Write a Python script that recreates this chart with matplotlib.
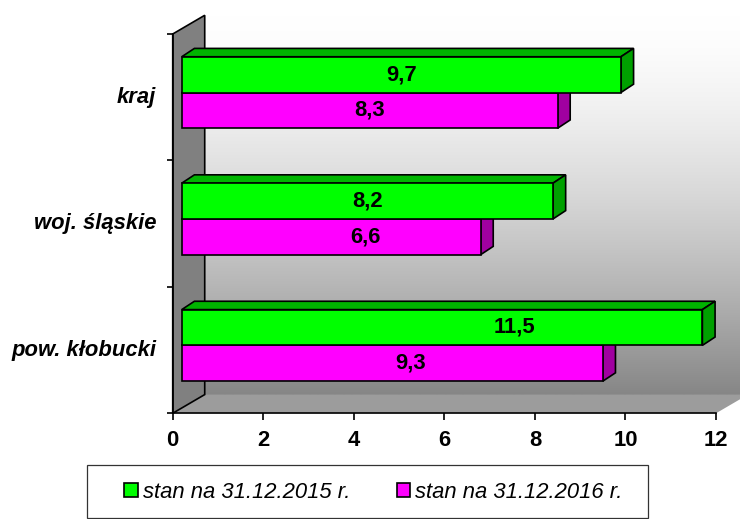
import numpy as np
import matplotlib
matplotlib.use('Agg')
import matplotlib.pyplot as plt
from matplotlib.patches import Polygon, Rectangle, Patch

# ---- data ----
categories = ['pow. kłobucki', 'woj. śląskie', 'kraj']
values_2015 = [11.5, 8.2, 9.7]
values_2016 = [9.3, 6.6, 8.3]
series_names = ['stan na 31.12.2015 r.', 'stan na 31.12.2016 r.']
x_ticks = [0, 2, 4, 6, 8, 10, 12]
# label placement tweaks (value units, relative to bar centre)
label_shift_2015 = [1.6, 0.0, 0.0]
label_shift_2016 = [0.4, 0.75, 0.0]

# ---- style ----
plt.rcParams['font.family'] = ['Liberation Sans', 'DejaVu Sans']
GREEN, GREEN_TOP, GREEN_SIDE = '#00FF00', '#00B400', '#00A000'
MAG, MAG_TOP, MAG_SIDE = '#FF00FF', '#B400B4', '#A000A0'
FS = 15.8

fig = plt.figure(figsize=(7.4, 5.19), dpi=100)
fig.patch.set_facecolor('white')
ax = fig.add_axes([0.2334, 0.2037, 0.7342, 0.7308])
ax.patch.set_visible(False)

XMAX = x_ticks[-1]
ymin, ymax = -0.5, len(categories) - 0.5
DX, DY = 0.707, 0.148          # box depth
BX, BY = 0.199, 0.037          # bar front-plane offset
BDX, BDY = 0.28, 0.066         # bar depth
H = 0.283                      # bar thickness

# back wall with gradient
t = np.linspace(0, 1, 256)
c = (255 - 121 * t ** 1.5) / 255.0
grad = c[:, None, None] * np.ones((1, 1, 3))
ax.imshow(grad, extent=[DX, XMAX + DX, ymin + DY, ymax + DY], origin='upper',
          aspect='auto', clip_on=False, zorder=0, interpolation='bilinear')

# floor
ax.add_patch(Polygon([(0, ymin), (XMAX, ymin), (XMAX + DX, ymin + DY), (DX, ymin + DY)],
                     closed=True, fc='#9c9c9c', ec='none', clip_on=False, zorder=1))
# left wall
ax.add_patch(Polygon([(0, ymin), (0, ymax), (DX, ymax + DY), (DX, ymin + DY)],
                     closed=True, fc='#808080', ec='black', lw=1.2, clip_on=False,
                     zorder=2, joinstyle='miter'))


def draw_3d(vals, centers, fc, ftop, fside, z):
    for v, yc in zip(vals, centers):
        b, tp = yc - H / 2, yc + H / 2
        top = [(BX, tp), (BX + v, tp), (BX + v + BDX, tp + BDY), (BX + BDX, tp + BDY)]
        side = [(BX + v, b), (BX + v, tp), (BX + v + BDX, tp + BDY), (BX + v + BDX, b + BDY)]
        ax.add_patch(Polygon(top, closed=True, fc=ftop, ec='black', lw=1.2,
                             clip_on=False, zorder=z))
        ax.add_patch(Polygon(side, closed=True, fc=fside, ec='black', lw=1.2,
                             clip_on=False, zorder=z))
    ax.barh(centers, vals, height=H, left=BX, color=fc, edgecolor='black',
            linewidth=1.2, zorder=z + 0.5, clip_on=False)


idx = np.arange(len(categories))
c2016 = idx + BY - H / 2
c2015 = idx + BY + H / 2
draw_3d(values_2016, c2016, MAG, MAG_TOP, MAG_SIDE, 3)
draw_3d(values_2015, c2015, GREEN, GREEN_TOP, GREEN_SIDE, 5)

# data labels
for vals, cents, shifts in ((values_2015, c2015, label_shift_2015),
                            (values_2016, c2016, label_shift_2016)):
    for v, yc, s in zip(vals, cents, shifts):
        ax.text(BX + v / 2 + s, yc, f'{v:.1f}'.replace('.', ','), ha='center',
                va='center', fontsize=FS, fontweight='bold', zorder=10)

ax.set_xlim(0, XMAX)
ax.set_ylim(ymin, ymax)

# axes
for s in ('top', 'right'):
    ax.spines[s].set_visible(False)
for s in ('left', 'bottom'):
    ax.spines[s].set_color('black')
    ax.spines[s].set_linewidth(1.2)
    ax.spines[s].set_zorder(2.5)

ax.set_xticks(x_ticks)
ax.set_xticklabels([str(v) for v in x_ticks], fontsize=FS, fontweight='bold')
ax.tick_params(axis='x', direction='out', length=5, width=1.2, pad=7)
ax.set_yticks(np.arange(len(categories) + 1) - 0.5)
ax.set_yticklabels([])
ax.tick_params(axis='y', which='major', direction='out', length=4, width=1.2)
ax.set_yticks(idx + 0.02, minor=True)
ax.set_yticklabels(categories, minor=True, fontsize=FS, fontweight='bold',
                   fontstyle='italic')
ax.tick_params(axis='y', which='minor', length=0, pad=12)

# legend
handles = [Patch(fc=GREEN, ec='black', lw=1.2), Patch(fc=MAG, ec='black', lw=1.2)]
fig.legend(handles, series_names, loc='center', bbox_to_anchor=(0.5047, 0.052),
           ncol=2, frameon=False, prop={'style': 'italic', 'size': FS},
           handlelength=0.6, handleheight=0.6, handletextpad=0.25,
           columnspacing=2.1)
fig.patches.append(Rectangle((87 / 740, 1 / 519), (648 - 87) / 740, (518 - 465) / 519,
                             transform=fig.transFigure, fill=False, ec='#333333',
                             lw=0.9))

fig.savefig('out.png', dpi=100)
